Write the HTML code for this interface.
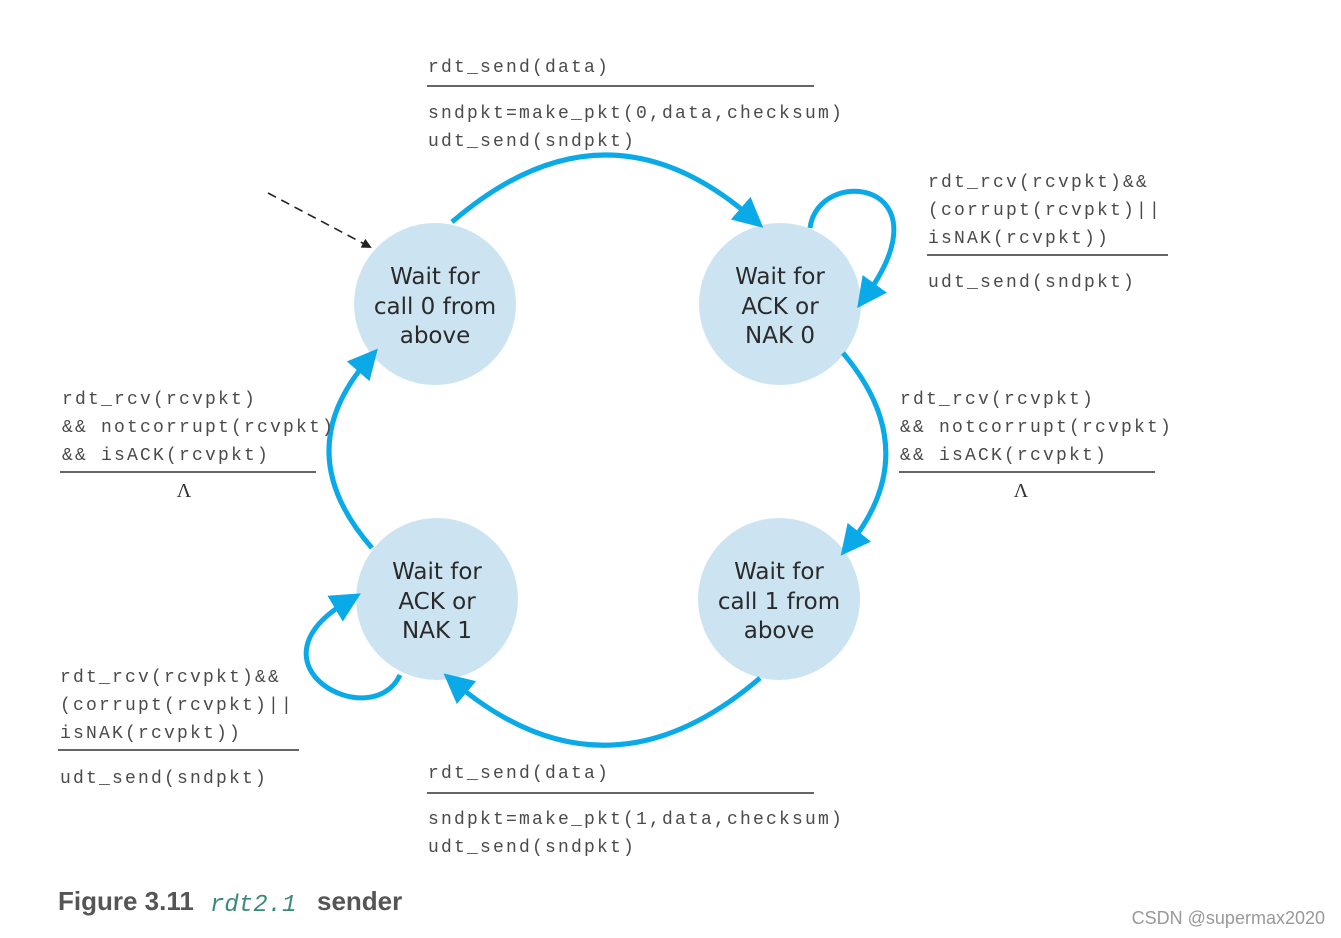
<!DOCTYPE html>
<html><head><meta charset="utf-8"><style>
body{margin:0;background:#fff;}
svg{display:block}
.m{font-family:"Liberation Mono",monospace;font-size:18px;fill:#4a4a4a;letter-spacing:2.2px}
.n{font-family:"DejaVu Sans","Liberation Sans",sans-serif;font-size:23px;fill:#2a2a2a;text-anchor:middle}
.a{fill:none;stroke:#0aaae8;stroke-width:5}
</style></head><body>
<svg width="1341" height="938" viewBox="0 0 1341 938" xmlns="http://www.w3.org/2000/svg">
<defs>
<marker id="ar" markerWidth="6" markerHeight="6" refX="3" refY="3" orient="auto" markerUnits="strokeWidth">
<path d="M0,0 L6,3 L0,6 Z" fill="#0aaae8"/></marker>
<marker id="dk" markerWidth="10" markerHeight="10" refX="8" refY="5" orient="auto" markerUnits="userSpaceOnUse">
<path d="M0,0 L10,5 L0,10 Z" fill="#222"/></marker>
</defs>
<circle cx="435" cy="304" r="81" fill="#cce4f1"/>
<circle cx="780" cy="304" r="81" fill="#cce4f1"/>
<circle cx="437" cy="599" r="81" fill="#cce4f1"/>
<circle cx="779" cy="599" r="81" fill="#cce4f1"/>
<path class="a" d="M452,222 Q605,90 752,218" marker-end="url(#ar)"/>
<path class="a" d="M843,353 Q925,450 850,544" marker-end="url(#ar)"/>
<path class="a" d="M760,678 Q606,810 455,683" marker-end="url(#ar)"/>
<path class="a" d="M372,548 Q288,452 368,360" marker-end="url(#ar)"/>
<path class="a" d="M810,228 C818,165 950,180 866,296" marker-end="url(#ar)"/>
<path class="a" d="M400,675 C372,735 240,665 348,601" marker-end="url(#ar)"/>
<path d="M268,193 L370,247" stroke="#222" stroke-width="1.6" stroke-dasharray="9,6" fill="none" marker-end="url(#dk)"/>
<text class="n" x="435" y="284">Wait for</text><text class="n" x="435" y="314">call 0 from</text><text class="n" x="435" y="343">above</text>
<text class="n" x="780" y="284">Wait for</text><text class="n" x="780" y="314">ACK or</text><text class="n" x="780" y="343">NAK 0</text>
<text class="n" x="437" y="579">Wait for</text><text class="n" x="437" y="609">ACK or</text><text class="n" x="437" y="638">NAK 1</text>
<text class="n" x="779" y="579">Wait for</text><text class="n" x="779" y="609">call 1 from</text><text class="n" x="779" y="638">above</text>
<g class="m">
<text x="428" y="72">rdt_send(data)</text>
<text x="428" y="118">sndpkt=make_pkt(0,data,checksum)</text>
<text x="428" y="146">udt_send(sndpkt)</text>
<text x="928" y="187">rdt_rcv(rcvpkt)&amp;&amp;</text>
<text x="928" y="215">(corrupt(rcvpkt)||</text>
<text x="928" y="243">isNAK(rcvpkt))</text>
<text x="928" y="287">udt_send(sndpkt)</text>
<text x="62" y="404">rdt_rcv(rcvpkt)</text>
<text x="62" y="432">&amp;&amp; notcorrupt(rcvpkt)</text>
<text x="62" y="460">&amp;&amp; isACK(rcvpkt)</text>
<text x="900" y="404">rdt_rcv(rcvpkt)</text>
<text x="900" y="432">&amp;&amp; notcorrupt(rcvpkt)</text>
<text x="900" y="460">&amp;&amp; isACK(rcvpkt)</text>
<text x="60" y="682">rdt_rcv(rcvpkt)&amp;&amp;</text>
<text x="60" y="710">(corrupt(rcvpkt)||</text>
<text x="60" y="738">isNAK(rcvpkt))</text>
<text x="60" y="783">udt_send(sndpkt)</text>
<text x="428" y="778">rdt_send(data)</text>
<text x="428" y="824">sndpkt=make_pkt(1,data,checksum)</text>
<text x="428" y="852">udt_send(sndpkt)</text>
</g>
<text x="184" y="497" font-family="Liberation Serif,serif" font-size="20" fill="#333" text-anchor="middle">Λ</text>
<text x="1021" y="497" font-family="Liberation Serif,serif" font-size="20" fill="#333" text-anchor="middle">Λ</text>
<g stroke="#333" stroke-width="1.5">
<line x1="427" y1="86" x2="814" y2="86"/>
<line x1="427" y1="793" x2="814" y2="793"/>
<line x1="927" y1="255" x2="1168" y2="255"/>
<line x1="899" y1="472" x2="1155" y2="472"/>
<line x1="60" y1="472" x2="316" y2="472"/>
<line x1="58" y1="750" x2="299" y2="750"/>
</g>
<text x="58" y="910" font-family="Liberation Sans,sans-serif" font-weight="bold" font-size="26" fill="#555">Figure 3.11</text>
<text x="210" y="911" font-family="Liberation Mono,monospace" font-style="italic" font-size="24" fill="#3a8a7a">rdt2.1</text>
<text x="317" y="910" font-family="Liberation Sans,sans-serif" font-weight="bold" font-size="26" fill="#555">sender</text>
<text x="1325" y="924" font-family="Liberation Sans,sans-serif" font-size="18" fill="#999" text-anchor="end">CSDN @supermax2020</text>
</svg>
</body></html>
